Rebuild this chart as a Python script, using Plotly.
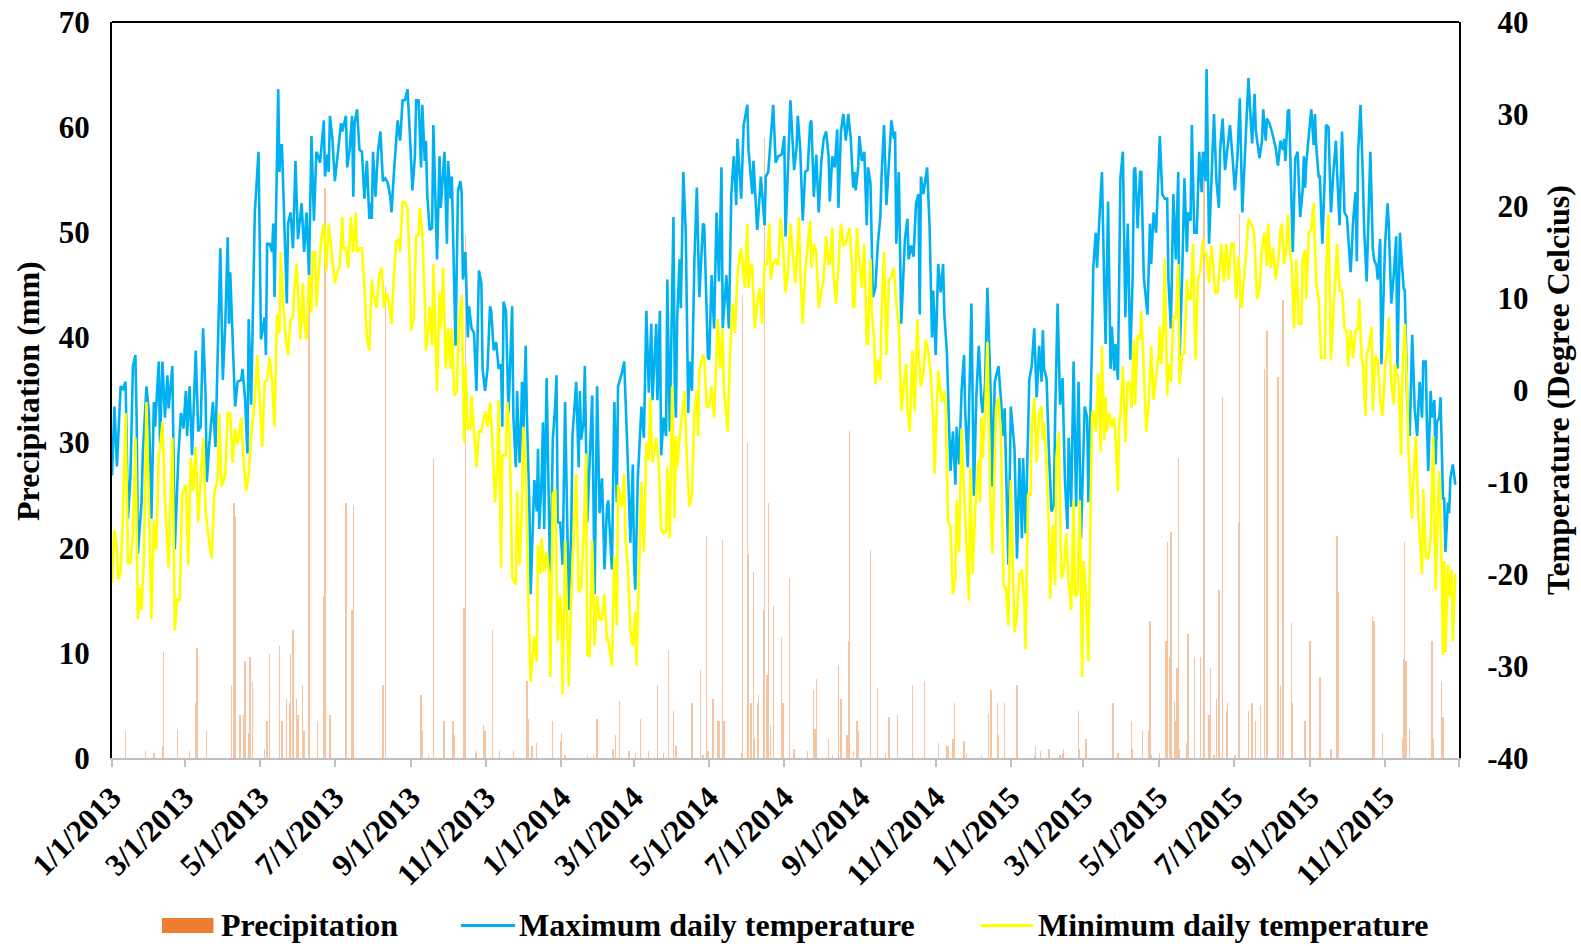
import pandas as pd
import plotly.graph_objects as go

# ---------------- data ----------------
start = pd.Timestamp("2013-01-01")

# daily maximum temperature (deg C): day index since 1/1/2013, value
tmax_day = [
    0,2,4,5,7,9,11,13,15,17,19,20,21,24,25,28,30,32,34,35,38,39,41,43,45,46,49,51,54,56,58,60,61,63,65,68,70,72,74,76,77,79,82,84,86,88,90,92,94,95,96,98,100,102,105,106,108,110,111,113,116,
    119,121,124,125,126,128,130,131,132,135,136,137,138,140,142,143,145,147,149,151,154,156,158,160,162,164,166,167,169,172,173,175,176,177,179,181,184,186,187,190,191,193,195,196,197,199,201,203,205,207,209,210,211,212,214,216,218,220,222,224,226,227,229,232,234,236,
    238,240,242,244,246,247,249,251,252,254,255,256,258,260,261,264,266,267,270,272,273,275,276,278,279,281,283,284,285,287,289,290,292,294,296,298,300,301,303,305,307,308,310,312,314,316,317,318,320,322,325,326,328,329,331,332,333,334,336,337,339,340,343,345,346,347,349,350,351,353,355,356,358,360,
    361,362,364,366,368,371,373,374,377,379,380,381,383,384,386,390,392,394,396,398,400,402,403,406,408,410,411,414,416,417,419,421,423,424,425,427,430,432,434,436,438,439,442,443,445,446,448,450,451,453,456,457,458,459,461,462,464,466,468,469,471,473,475,477,479,480,
    481,484,485,487,489,491,493,495,496,499,501,503,505,507,508,511,513,516,517,520,521,524,525,527,530,531,533,535,537,539,541,544,546,547,549,551,554,556,557,559,561,563,565,567,568,570,572,574,576,578,580,582,583,585,587,589,590,592,594,596,598,600,602,
    603,604,606,607,609,611,613,614,616,618,620,622,624,625,627,629,631,633,635,636,637,639,641,644,646,647,649,651,653,655,656,657,659,662,664,666,667,669,671,673,675,676,678,680,681,683,685,686,688,690,692,693,695,698,700,702,704,706,707,709,711,714,715,717,720,722,724,
    725,726,728,730,733,735,737,739,740,742,745,747,749,751,753,755,756,757,759,761,763,765,766,768,770,772,774,776,777,779,781,783,785,787,790,792,793,796,797,799,800,802,804,806,807,809,811,812,814,815,817,819,821,823,825,827,829,830,831,833,835,836,838,841,843,844,846,
    848,850,851,853,855,857,858,860,862,864,866,867,869,871,873,874,876,877,879,881,883,885,886,888,889,891,893,895,897,899,900,902,904,906,908,910,912,914,916,918,920,923,925,926,928,929,932,934,935,937,938,940,942,945,947,949,951,952,953,955,956,958,959,961,963,965,967,968,
    969,970,972,974,976,977,978,980,981,983,985,986,988,990,992,994,995,997,999,1001,1003,1004,1006,1007,1008,1010,1011,1012,1014,1016,1017,1019,1021,1022,1024,1025,1027,1028,1030,1031,1034,1036,1037,1039,1041,1043,1044,1046,1047,1049,1050,1052,1054,1056,1058,1060,1062,1064,1065,1067,1068,1069,1071,1072,1074,1075,1076,1078,1079,1080,1081,1082,1083,1085,1086,1087,1089,1091,
]
tmax_c = [
    -9.3,-1.8,-8.3,-5.4,0.4,0.1,0.9,-14,-9.3,2.6,3.8,-3,-17.8,-12.2,-6.9,0.4,-2.5,-14,-1.3,-4,3.1,-5.7,3.1,-3,1.6,-2,2.6,-17.3,-6.9,-2.5,-4.2,-0.1,-5,0.4,-7.1,4.3,-4.5,-4,6.7,-0.6,-10,-5.9,-1.3,-6.2,5.2,15.4,1.1,7.2,16.6,7.2,12.8,4.8,-1.8,0.9,1.1,2.3,-0.8,-6.9,7.7,-1.6,19.3,
    25.9,5.5,7.9,3.8,15.9,15.9,15,18.1,10.1,32.7,23.7,26.6,26.6,18.8,9.4,18.1,19.3,15.4,24.9,16.4,20.3,15,19.3,12.5,27.6,18.4,25.9,25.6,24.7,29.3,23.2,25.6,23.7,29.8,27.3,22.7,26.6,29,28.1,29.8,24.2,26.1,29.8,21,29,30.5,26.1,25.9,20.8,24.9,18.6,20.3,18.6,25.9,21,25.9,28.1,22.7,23,22.5,21,19.3,23.7,29.3,27.1,31.5,
    31.5,32.7,27.6,21.7,25.4,31.5,31.5,24.2,31,24.9,27.1,21.3,17.4,17.6,28.8,14.2,25.4,19.8,25.9,15.9,24.9,20.8,23.2,10.6,4.8,21.7,22.7,21.3,12,15,5.7,9.1,6.7,6.2,-0.1,13,11.6,2.3,-0.1,2.3,9.1,8.6,4.3,5.2,2.3,2.8,-4,9.6,8.6,-2.5,9.1,-3,-8.4,-0.1,-7.9,-5,0.9,-5.4,4.8,-3,-12.7,-22.2,-9.8,-13.2,-6.4,-15.1,-9.3,-3.5,-15.1,1.3,-12,-22,-5.4,-1.6,
    1.6,-14.4,-14.4,-19,-1.3,-23.9,-15.1,-5,0.9,-8.4,-0.1,-5.4,-3.5,2.6,-14.4,-0.6,-22.2,0.4,-13.4,-9.6,-19.5,-12.7,-12,-19.5,-1.3,-12.2,0.4,1.8,3.1,-1.6,-8.1,-16.6,-8.1,-18.8,-21.7,-9.8,-1.8,-5.2,8.6,-0.3,7.2,-1.1,7.2,-1.1,8.6,-7.1,-3,-5,12,-4.5,18.8,0.9,-3,7.7,14.2,8.9,23.7,17.1,-2.5,3.1,-0.1,14,22,10.1,15,18.1,
    17.9,3.5,3.3,12.5,6.7,19.3,11.8,24.2,6.7,12.5,6.7,21.3,25.4,20.1,27.3,20.8,28.8,31,26.1,21.3,24.9,17.4,19.1,23.2,17.9,23.2,23.7,27.1,31,24.7,25.4,25.6,27.6,16.7,23.7,31.5,23.9,26.4,29.8,26.1,18.4,23.7,23.9,29,29.3,21,25.6,19.3,24.7,27.3,28.1,25.4,20.5,25.4,24.2,28.3,19.8,28.1,30,27.1,30,27.3,22,
    23.7,21.7,24.2,27.6,24.9,25.9,17.9,24.2,22.5,10.1,11.1,15.9,18.8,23.2,28.8,20.1,24.2,29.3,27.3,28.1,15.9,23.7,7.2,16.4,18.6,14.2,15.7,14.5,20.3,21.3,8.2,23.2,21.3,24.2,17.9,5.7,10.8,3.8,13.7,10.6,13.7,8.2,4.3,-5.9,-8.8,-4.5,-10.3,-4,-8.1,-0.1,3.8,-2.5,-8.4,9.4,-11.5,-0.6,4.8,-1.1,-2.5,0.4,11.1,-2,-10.5,0.9,2.6,-1.1,-5,
    -2,-7.4,-19,-1.8,-6.4,-18.3,-7.4,-16.1,-7.4,-15.6,1.1,2.6,6.7,-0.8,4.8,0.9,6.5,2.3,1.3,-6.9,-13.2,-12.5,-3,9.4,-1.6,1.3,-10,-15.1,-5.2,-12.7,3.1,-12.7,0.9,-16.1,-1.8,-3,-12.2,5.5,13.5,17.1,13.3,18.8,23.7,10.6,5,20.5,2.3,6.9,2.1,5,1.1,23,25.9,7.9,18.1,3.3,12.5,23.9,24.2,17.6,23.7,23.7,12.3,8.2,18.1,13.7,19.3,
    17.1,24.2,27.6,21.3,20.8,20.8,12,6.7,21.3,14.2,23.7,3.3,11.6,23,15,19.3,18.4,28.8,17.1,17.1,25.9,21.5,25.9,22.7,34.9,15.9,24.2,30,22.7,19.8,26.1,29.5,23.9,26.1,28.8,25.4,21.7,25.2,31.7,19.3,25.4,33.9,29,26.8,32.2,28.1,25.2,27.1,30.5,27.1,29.5,29,28.1,26.4,24.4,27.1,26.1,27.3,24.9,30.3,30.5,19.3,15,25.2,25.9,18.8,21.7,25.4,
    22,24.7,28.1,30.5,26.6,30,26.6,23.2,23.2,15.9,23.2,28.8,28.6,19.3,23.7,27.1,23.7,17.9,28.1,19.3,18.8,16.9,12.8,15.4,18.4,21.5,14,25.6,31,22.7,17.4,11.8,20.3,25.9,15.4,14.2,13.5,12,16.4,2.8,15.9,20.3,17.9,9.4,12.5,16.7,2.3,17.1,15,11.1,10.8,-1.6,-5,6,-2,-5,0.9,-3,3.1,3.1,-4,-8.8,-0.1,-3,-1.1,-8.1,-3.5,-3,-0.8,-6.2,-11.8,-11.8,-17.6,-12.2,-13.4,-9.6,-8.1,-10.3,
]

# daily minimum temperature (deg C)
tmin_day = [
    0,2,4,5,7,9,11,13,15,17,19,21,23,24,26,28,30,32,34,36,38,39,41,43,46,49,51,53,55,57,60,62,64,66,68,70,74,76,79,81,83,86,87,89,92,94,96,98,100,102,105,107,109,111,113,116,
    118,120,122,124,126,128,130,132,134,136,137,139,141,143,145,147,148,150,151,153,155,156,158,160,162,163,165,166,168,170,172,174,176,178,181,183,185,187,188,190,192,194,196,198,199,201,203,205,207,209,211,212,214,215,217,219,221,223,225,227,229,231,233,234,236,
    238,240,242,243,245,247,249,250,252,254,255,257,258,260,261,264,266,267,269,271,273,275,276,278,280,282,284,286,287,289,291,292,294,296,298,300,303,305,307,309,311,313,314,316,317,320,321,323,325,328,329,331,333,334,336,338,340,343,345,346,348,349,351,353,355,356,358,360,
    362,364,365,366,368,371,373,375,377,379,381,383,385,386,388,390,392,394,396,398,400,402,403,406,408,410,411,414,416,417,419,421,423,425,426,428,430,432,434,436,437,439,442,444,446,448,450,451,453,455,457,458,459,461,463,465,467,469,471,473,475,476,477,480,
    481,483,485,487,489,492,494,496,497,500,502,504,506,508,510,511,514,516,517,519,520,522,524,526,528,530,532,534,535,537,539,541,543,545,547,549,551,553,555,557,558,559,561,563,565,567,568,570,572,574,576,578,580,582,583,585,586,588,590,592,594,596,597,599,601,602,
    603,605,606,609,611,613,614,616,617,619,620,622,624,625,627,629,631,633,635,637,639,641,643,645,646,648,650,652,654,655,657,659,661,663,665,667,668,670,671,674,676,677,679,681,683,685,686,688,690,692,694,696,697,699,701,702,704,705,706,707,709,711,713,715,716,718,720,722,724,
    725,726,728,730,732,733,735,737,738,739,741,742,744,746,747,749,751,753,755,756,757,759,761,762,764,766,767,769,771,773,775,777,779,781,782,784,786,788,789,791,793,796,797,799,801,803,804,806,807,808,810,812,814,815,817,818,819,821,823,825,827,828,830,831,833,835,836,838,840,842,844,846,
    847,848,850,851,852,854,855,857,858,860,862,864,866,867,869,871,873,874,876,878,880,882,884,886,887,889,891,893,896,898,901,903,905,907,909,911,913,915,917,918,921,923,925,927,928,930,932,934,936,938,939,941,943,945,947,949,950,952,954,955,957,958,960,962,964,966,967,
    969,970,972,974,976,978,980,982,985,986,988,990,993,995,997,999,1001,1003,1004,1006,1008,1010,1012,1013,1015,1016,1018,1019,1021,1023,1024,1026,1028,1030,1032,1034,1036,1037,1039,1041,1042,1045,1047,1048,1050,1052,1053,1056,1057,1059,1061,1064,1065,1067,1069,1071,1073,1075,1077,1078,1080,1081,1082,1083,1085,1086,1088,1089,1091,
]
tmin_c = [
    -21,-15.2,-17.3,-20.5,-20,-13.2,-2.5,-18.8,-18.8,-15.6,-5.2,-24.9,-21.5,-23.9,-18.1,-1.3,-12.7,-24.9,-14.2,-17.3,-6.9,-6.4,-3.5,-12,-19.3,-5.2,-26.1,-22.7,-22.9,-11.3,-10.3,-19,-7.4,-11,-6.2,-14.4,-5.2,-13.2,-16.6,-18.3,-11.3,-9.6,-2.5,-10.5,-9.3,-2.5,-2.5,-7.9,-4.2,-5.9,-3,-7.9,-11,-9.3,-5,-1.1,
    3.8,-1.6,-6.2,0.9,1.1,3.5,0.9,-4,8.2,6.2,15,9.6,5.7,3.8,7.7,7.9,10.8,13.7,10.6,5.5,11.6,7.7,5.5,12.5,8.4,15,15,9.1,13,16.4,18.1,13,18.1,15.4,11.6,12.8,13.5,18.8,15.4,15.4,13.3,18.8,15,19.3,15,15.4,15.4,11.1,5.7,4.3,12,10.6,9.6,8.9,12.5,13.3,8.9,10.6,9.4,7.2,12.5,16.2,16.4,15,20.5,
    20.3,19.8,13,6.5,7.7,16.7,16.9,19.8,16.9,10.1,4.3,6.7,9.1,4.8,13.7,-0.1,10.6,6.7,13.3,2.3,6.7,2.3,6.7,-0.6,-0.1,7.7,10.3,-5.7,2.6,-4.2,-4.2,-0.6,-4,-8.4,-4.5,-4.5,-2.3,-4,-1.3,-5.9,-12.2,-7.9,-1.1,-19.3,-7.1,-7.1,-1.3,-5,-20.3,-21.2,-11,-19,-12.7,-4,-7.9,-22.4,-31.7,-26.8,-29.5,-16.9,-20,-16.1,-19.8,-17.6,-20,-31.2,-11.3,-10.8,
    -27.3,-22.4,-24.9,-33.1,-16.4,-32.2,-22.4,-15.1,-9.1,-22,-21.5,-16.1,-6.9,-28.8,-29,-16.4,-27.8,-22.4,-24.9,-24.9,-22.2,-27.3,-27,-30,-18.1,-25.6,-10.3,-12.7,-9.1,-16.1,-19.3,-26.1,-27.8,-24.2,-30,-20,-10,-17.6,-5.7,-7.6,-0.8,-7.9,-5.2,-7.9,-15.1,-15.6,-15.4,-8.4,-16.1,0.4,-14,-5,-8.4,-5.2,-2.5,-0.1,-7.9,-12.7,-11.3,-2.3,-0.1,-5,2.1,3.8,
    3.5,-1.8,-1.8,0.4,-3,7.7,2.3,6.7,0.1,-4.5,3.8,9.4,6.2,12.5,15,15.4,11.1,18.1,11.1,13.7,13.5,6.7,9.4,11.1,7.2,13.7,13.7,18.1,12,13.7,14.2,13.5,18.6,15.7,10.6,12.8,18.1,15.2,11.6,16.4,18.8,12.8,7.2,13,15.7,18.4,13.3,15.9,15,8.9,10.6,12,16.7,13.7,13.7,17.6,12.5,9.4,13.5,18.1,15.7,15.9,16.7,17.6,13.5,8.9,
    9.1,17.6,15.4,11.1,15.9,5,5,14.2,8.6,5.5,0.6,3.3,1.1,8.2,15,3.8,12,12.3,13.3,9.4,7.2,-2.3,0.4,2.8,-2,-4.5,4.3,-2.3,7.7,4.3,0.4,1.8,5.5,4.1,1.8,-3,-9.1,-1.6,2.1,-1.3,-0.1,-1.6,-14.2,-14.9,-22.2,-20.5,-12,-17.6,-4.2,-11,-17.3,-22.9,-8.4,-20,-13.2,-11.5,-7.6,-12.2,-3,-7.4,-2.8,5.2,-10.3,-17.8,-12.5,-2,-0.8,-5,-21,
    -21.5,-21.5,-25.6,-9.8,-22.9,-26.3,-24.6,-20,-20,-19.5,-23.4,-28.2,-11.3,-11.5,-4,-0.8,-7.9,-2.5,-1.8,-5.4,-3.5,-8.4,-15.4,-22.7,-14.7,-21.2,-7.4,-4.5,-20.5,-19.5,-15.6,-21,-23.9,-12,-22.4,-22.2,-12,-31.2,-18.6,-22,-29.5,-2.5,-2.3,-4.5,1.8,-6.7,4.8,-5.4,-0.8,-4.5,-2.5,-4,-3,-5.2,-11,-3.3,-2.8,2.6,-5.7,0.9,0.6,-2,5.5,-1.6,6,5.5,8.6,1.1,-4.5,-1.6,4.8,-1.1,
    0.1,0.9,3.8,6.9,2.8,6.7,14.2,-0.6,2.8,0.9,7.9,7.9,13.7,0.6,3.8,4,12,9.9,9.9,15.9,3.3,12,13,16.4,15,14.5,11.6,15.7,10.6,10.6,15.9,11.8,15.9,12,15.9,15.9,9.9,14.5,8.9,9.9,14.5,18.6,18.1,17.6,15.9,9.9,11.1,15.4,17.1,13.5,18.1,13.3,15.4,12,13.7,17.4,18.1,13.7,15.9,19.1,14.5,14,6.7,14.2,7.2,7.2,14.2,
    15.2,9.9,17.1,17.4,20.3,11.6,9.9,3.5,3.5,12.5,19.1,3.3,10.3,15.9,10.8,10.8,6.7,6.2,2.6,6.5,3.5,6.5,6.7,9.9,3.3,2.8,-2.8,3.8,4.8,6.9,-2.3,3.8,3.3,-1.3,-2.8,2.8,4.8,7.9,0.9,-1.6,2.8,0.9,-7.1,1.8,7.2,-0.6,-6.9,-14,-9.8,-5,-13.4,-20,-10.8,-18.1,-18.3,-16.1,-5,-21.7,-12,-8.8,-19.5,-28.8,-18.6,-28.5,-19,-22.4,-19.5,-27.3,-20,
]

# daily precipitation (mm) on days with rain
precip_day = [
    11,27,34,41,42,53,63,68,69,77,97,99,100,104,107,108,111,112,114,
    124,126,128,136,138,142,144,145,147,150,151,155,156,160,167,172,173,177,190,195,196,220,222,
    251,252,257,261,269,270,277,278,286,287,295,296,302,303,309,315,326,337,338,341,345,358,
    364,365,368,386,391,394,407,409,412,420,425,429,436,443,448,452,456,458,471,478,480,
    483,484,488,492,493,496,497,511,512,516,517,519,521,522,524,525,529,530,532,533,535,537,544,545,550,554,565,570,571,572,582,585,590,592,597,598,599,602,
    605,606,616,622,628,631,638,650,660,671,678,679,683,684,692,694,706,712,714,719,720,725,
    735,749,750,754,761,770,772,773,785,786,791,813,817,828,829,837,842,843,844,
    851,856,857,859,860,863,864,865,866,867,873,874,879,884,887,891,892,895,897,899,902,905,906,912,915,916,923,926,929,933,936,938,947,949,951,958,959,969,
    973,981,990,995,996,1024,1025,1032,1048,1049,1050,1051,1054,1072,1073,1080,1081,
]
precip_mm = [
    2.6,0.7,0.5,1.1,10.1,2.8,0.7,5.2,10.5,2.6,6.9,24.3,23,4.1,4.1,9.2,2.4,9.6,7.3,
    0.9,3.5,9.9,10.7,3.5,5.6,5.2,9.9,12.2,5.6,4.1,6.9,2.6,45.9,3.5,15.4,54.2,4.1,24.3,14.1,24.1,6.9,44.9,
    6,2.6,0.3,28.5,3.5,3.5,3.5,2.2,14.3,49.8,0.5,0.7,3.1,2.6,12.2,0.7,0.7,7.3,3.7,1.1,1.4,3.5,
    1.6,2.4,0.3,0.3,0.3,3.7,0.9,2.2,5.4,0.7,0.5,3.7,0.7,6.9,0.5,10.3,4.5,1.1,5.2,8.4,0.3,
    21.1,0.7,5.6,3.5,3.5,20.7,3.5,0.5,44,30,19.4,5.2,17.7,1.8,5.2,6,14.1,59.1,7.9,24.3,3.1,14.5,11.5,5.2,17.1,0.9,0.7,6.5,2.8,7.5,1.8,0.3,8.8,5.6,2.2,11.1,31.1,0.7,
    3.5,2.6,19.8,6.7,0.5,3.9,4.1,6.9,7.3,1.4,1.1,1.1,1.8,5.2,1.6,0.5,0.3,4.3,6.5,5.2,2.2,5.2,
    6.9,0.3,1.1,0.7,0.9,0.3,0.5,0.9,4.5,0.9,1.8,5.2,0.5,3.5,0.9,2.6,2.6,13,0.3,
    0.5,11.1,20.5,9.6,21.5,5.4,3.5,8.6,28.5,0.9,1.4,11.8,9.6,9.6,54.9,4.1,8.6,0.3,5.6,16,34.3,4.5,5.2,0.3,22.4,51.7,4.5,5.2,3.5,5,37,40.6,36.2,6.9,43.6,12.8,5.2,3.5,
    11.1,7.7,0.9,21.1,15.8,13.5,13,2.4,1.8,9.4,20.5,9.2,2.8,11.1,1.8,7.3,3.9,
]

x_tick_labels = ["1/1/2013", "3/1/2013", "5/1/2013", "7/1/2013", "9/1/2013", "11/1/2013",
                 "1/1/2014", "3/1/2014", "5/1/2014", "7/1/2014", "9/1/2014", "11/1/2014",
                 "1/1/2015", "3/1/2015", "5/1/2015", "7/1/2015", "9/1/2015", "11/1/2015"]
precip_ticks = [0, 10, 20, 30, 40, 50, 60, 70]
temp_ticks = [-40, -30, -20, -10, 0, 10, 20, 30, 40]

assert len(tmax_day) == len(tmax_c)
assert len(tmin_day) == len(tmin_c)
assert len(precip_day) == len(precip_mm)

def to_dates(days):
    return [start + pd.Timedelta(days=int(d)) for d in days]

# ---------------- figure ----------------
FONT = "Liberation Serif, Times New Roman, serif"
W, H = 1581, 946
L, R, T, B = 112, 1459, 22, 758   # plot-area pixel box

def px_x(px):
    return (px - L) / (R - L)

def px_y(py):
    return (B - py) / (B - T)

fig = go.Figure()
fig.add_trace(go.Bar(
    x=to_dates(precip_day), y=precip_mm, name="Precipitation",
    marker=dict(color="#F7C4A1", line=dict(width=0)),
    width=0.25 * 86400000, showlegend=False,
))
fig.add_trace(go.Scatter(
    x=to_dates(tmax_day), y=tmax_c, yaxis="y2", mode="lines",
    name="Maximum daily temperature", line=dict(color="#00B0F0", width=2.6),
    showlegend=False,
))
fig.add_trace(go.Scatter(
    x=to_dates(tmin_day), y=tmin_c, yaxis="y2", mode="lines",
    name="Minimum daily temperature", line=dict(color="#FFFF00", width=2.6),
    showlegend=False,
))

tickfont = dict(family=FONT, size=31, color="black", weight="bold")
hid = '<span style="color:rgba(0,0,0,0)">{}</span>'
def right_label(v):
    s = str(v)
    if v >= 10:
        return hid.format("-") + s
    if v == 0:
        return hid.format("-0") + s
    return s

fig.update_layout(
    width=W, height=H,
    margin=dict(l=L, r=W - R, t=T, b=H - B, pad=0),
    paper_bgcolor="white", plot_bgcolor="white",
    bargap=0, showlegend=False,
    xaxis=dict(
        type="date", range=["2013-01-01", "2015-12-31"],
        tickvals=[pd.to_datetime(s, format="%m/%d/%Y") for s in x_tick_labels] + [pd.Timestamp("2015-12-31")],
        ticktext=x_tick_labels + [""],
        tickangle=-45, tickfont=tickfont,
        showline=True, linecolor="#BFBFBF", linewidth=2,
        ticks="outside", ticklen=7, tickwidth=1.5, tickcolor="#BFBFBF",
        showgrid=False, zeroline=False, automargin=False,
    ),
    yaxis=dict(
        range=[0, 70], tickvals=precip_ticks, ticktext=[str(v) for v in precip_ticks],
        tickfont=tickfont, showline=True, linecolor="black", linewidth=2,
        ticks="", ticklabelstandoff=14,
        showgrid=False, zeroline=False, automargin=False,
    ),
    yaxis2=dict(
        range=[-40, 40], overlaying="y", side="right",
        tickvals=temp_ticks, ticktext=[right_label(v) for v in temp_ticks],
        tickfont=tickfont, showline=True, linecolor="black", linewidth=2,
        ticks="", ticklabelstandoff=20,
        showgrid=False, zeroline=False, automargin=False,
    ),
)

shapes = [
    dict(type="line", xref="paper", yref="paper", x0=0, x1=1, y0=1, y1=1,
         line=dict(color="black", width=2)),
    # legend symbols
    dict(type="rect", xref="paper", yref="paper",
         x0=px_x(162), x1=px_x(213.5), y0=px_y(918), y1=px_y(933),
         fillcolor="#ED7D31", line=dict(width=0)),
    dict(type="line", xref="paper", yref="paper",
         x0=px_x(461), x1=px_x(515), y0=px_y(925.5), y1=px_y(925.5),
         line=dict(color="#00B0F0", width=3)),
    dict(type="line", xref="paper", yref="paper",
         x0=px_x(980.5), x1=px_x(1033), y0=px_y(925.5), y1=px_y(925.5),
         line=dict(color="#FFFF00", width=3)),
]
fig.update_layout(shapes=shapes)

txtfont = dict(family=FONT, size=32, color="black", weight="bold")
annotations = [
    dict(text="Precipitation (mm)", textangle=-90, xref="paper", yref="paper",
         x=px_x(28), y=px_y(391), xanchor="center", yanchor="middle",
         showarrow=False, font=txtfont),
    dict(text="Temperature (Degree Celcius)", textangle=-90, xref="paper", yref="paper",
         x=px_x(1558), y=px_y(390), xanchor="center", yanchor="middle",
         showarrow=False, font=txtfont),
    dict(text="Precipitation", xref="paper", yref="paper",
         x=px_x(219), y=px_y(925), xanchor="left", yanchor="middle",
         showarrow=False, font=txtfont),
    dict(text="Maximum daily temperature", xref="paper", yref="paper",
         x=px_x(517), y=px_y(925), xanchor="left", yanchor="middle",
         showarrow=False, font=txtfont),
    dict(text="Minimum daily temperature", xref="paper", yref="paper",
         x=px_x(1036), y=px_y(925), xanchor="left", yanchor="middle",
         showarrow=False, font=txtfont),
]
fig.update_layout(annotations=annotations)

fig.write_html("out.html")
